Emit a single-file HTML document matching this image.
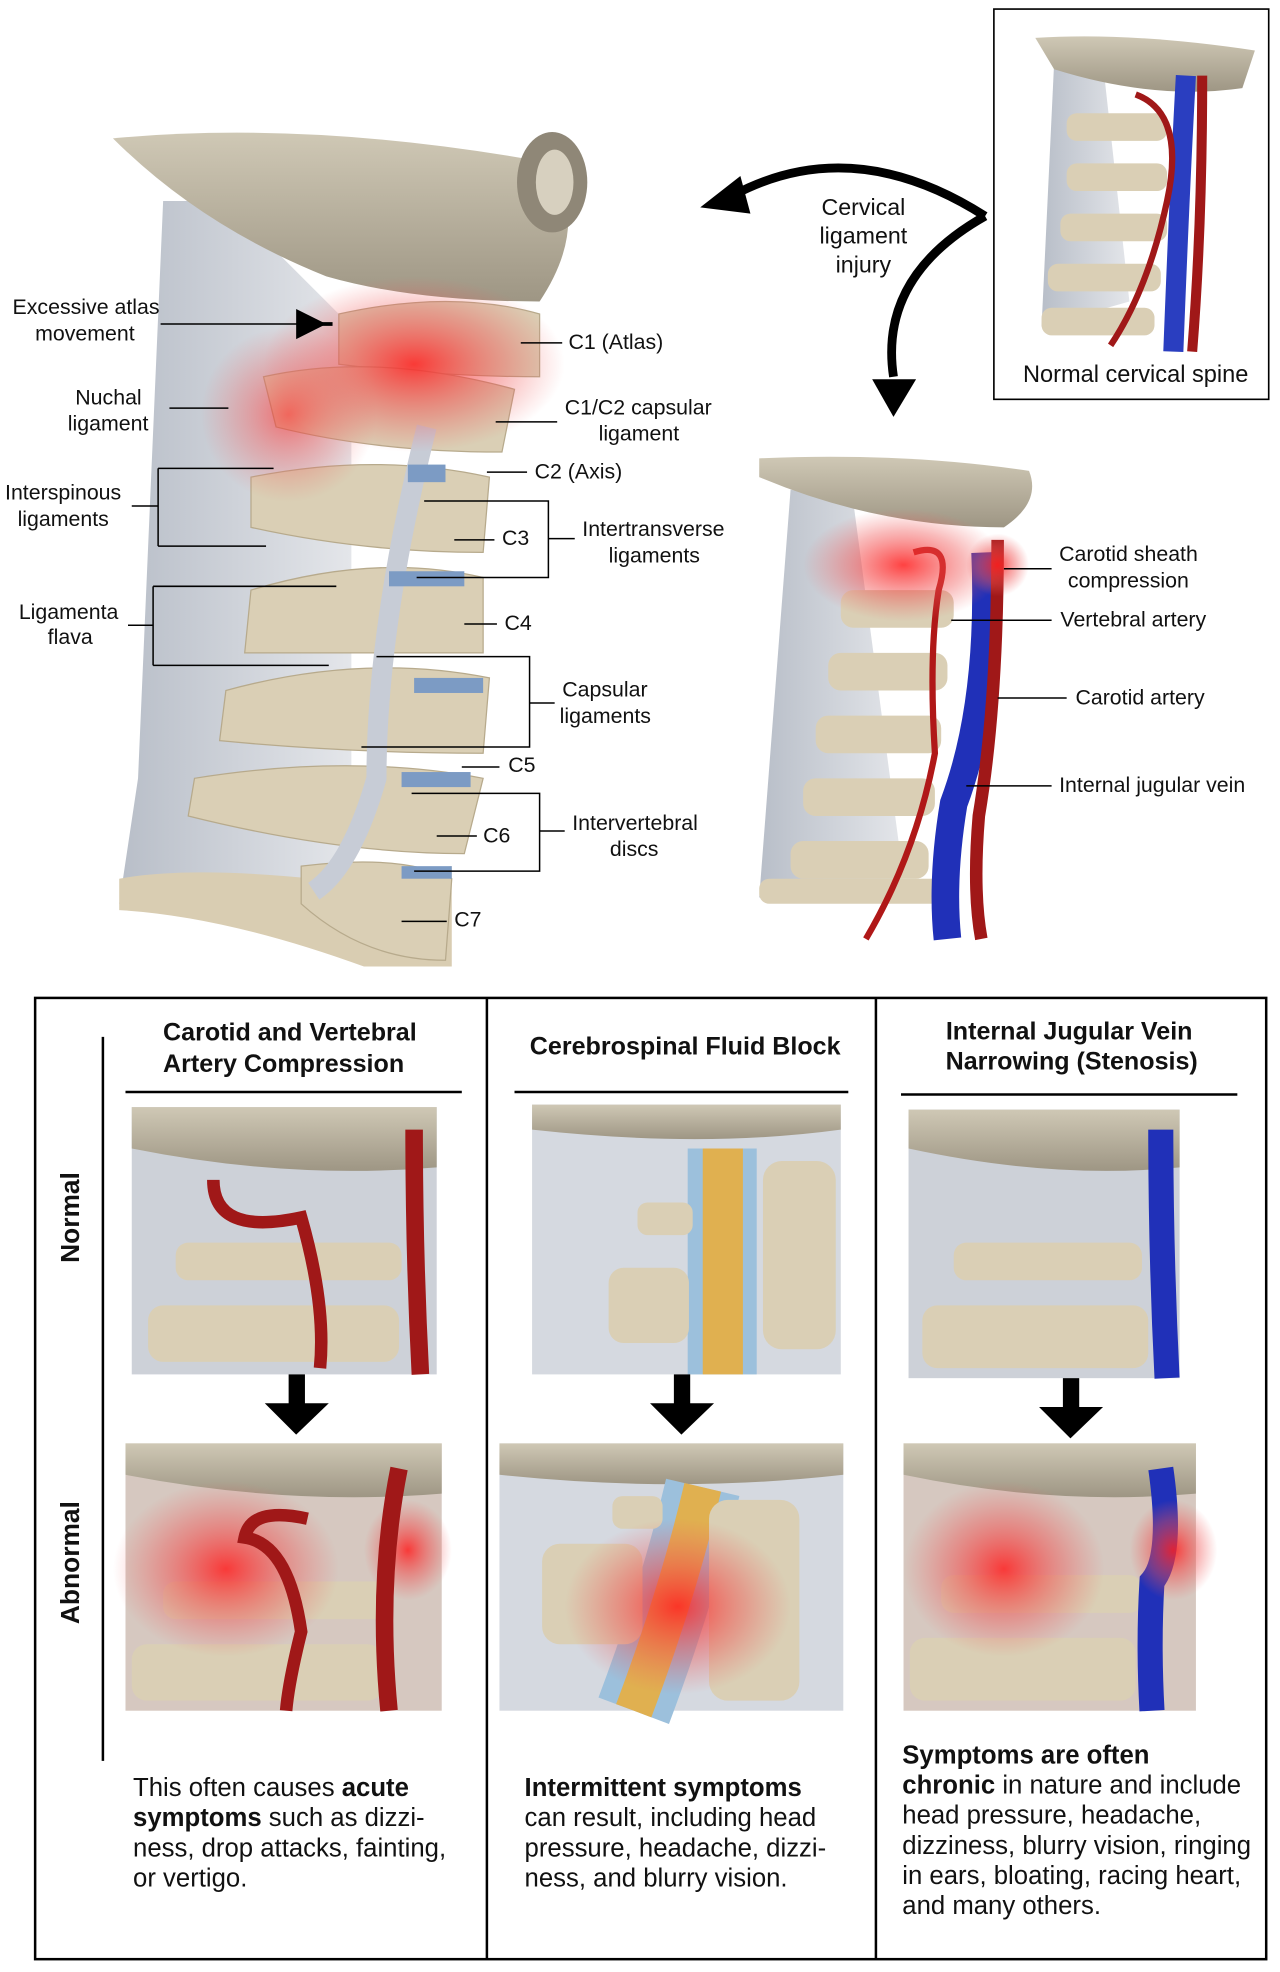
<!DOCTYPE html>
<html><head><meta charset="utf-8"><style>
html,body{margin:0;padding:0;background:#fff;}
svg{display:block;}
text{font-family:"Liberation Sans",Arial,sans-serif;fill:#111;}
</style></head><body>
<svg width="1280" height="1972" viewBox="0 0 1020 1571" xmlns="http://www.w3.org/2000/svg">
<defs>
<radialGradient id="red" cx="50%" cy="50%" r="50%"><stop offset="0" stop-color="#ff2020" stop-opacity="0.85"/><stop offset="0.6" stop-color="#f05050" stop-opacity="0.4"/><stop offset="1" stop-color="#f06060" stop-opacity="0"/></radialGradient>
<linearGradient id="lig" x1="0" x2="1"><stop offset="0" stop-color="#b8bec8"/><stop offset="1" stop-color="#e4e6ea"/></linearGradient>
<linearGradient id="skull" x1="0" y1="0" x2="0" y2="1"><stop offset="0" stop-color="#cfc8b5"/><stop offset="1" stop-color="#9e9684"/></linearGradient>
</defs>

<path d="M130,160 L180,160 L280,260 L280,720 L95,720 L110,620 Z" fill="url(#lig)"/>
<path d="M95,700 Q150,690 250,700 L360,690 L360,770 L290,770 Q180,730 95,725Z" fill="#d9cdb2"/>
<path d="M90,110 Q250,95 440,130 Q470,180 430,240 Q330,240 260,220 Q160,180 90,110Z" fill="url(#skull)"/>
<ellipse cx="440" cy="145" rx="28" ry="40" fill="#8f8777"/>
<ellipse cx="442" cy="145" rx="15" ry="26" fill="#d7d0bf"/>
<g fill="#dacfb5" stroke="#b7aa8c" stroke-width="1">
<path d="M270,250 Q360,230 430,250 L430,300 Q350,300 270,290Z"/>
<path d="M210,300 Q300,280 410,310 L400,360 Q300,360 220,340Z"/>
<path d="M200,380 Q300,360 390,380 L385,440 Q290,440 200,420Z"/>
<path d="M200,470 Q300,440 385,460 L385,520 Q290,520 195,520Z"/>
<path d="M180,550 Q290,520 390,540 L385,600 Q280,600 175,590Z"/>
<path d="M155,620 Q280,600 385,620 L370,680 Q270,680 150,650Z"/>
<path d="M240,690 Q320,680 360,700 L355,765 Q290,765 240,720Z"/>
</g>
<path d="M340,340 Q300,500 300,620 Q280,690 250,710" stroke="#c7ccd6" stroke-width="16" fill="none"/>
<g fill="#7c9bc4"><rect x="325" y="370" width="30" height="14"/><rect x="310" y="455" width="60" height="12"/><rect x="330" y="540" width="55" height="12"/><rect x="320" y="615" width="55" height="12"/><rect x="320" y="690" width="40" height="10"/></g>
<ellipse cx="330" cy="290" rx="120" ry="70" fill="url(#red)"/>
<ellipse cx="230" cy="330" rx="70" ry="70" fill="url(#red)" opacity="0.7"/>

<g font-size="17">
<text x="10" y="250">Excessive atlas</text><text x="28" y="271">movement</text>
<text x="60" y="322">Nuchal</text><text x="54" y="343">ligament</text>
<text x="4" y="398">Interspinous</text><text x="14" y="419">ligaments</text>
<text x="15" y="493">Ligamenta</text><text x="38" y="513">flava</text>
<text x="453" y="278">C1 (Atlas)</text>
<text x="450" y="330">C1/C2 capsular</text><text x="477" y="351">ligament</text>
<text x="426" y="381">C2 (Axis)</text>
<text x="400" y="434">C3</text>
<text x="464" y="427">Intertransverse</text><text x="485" y="448">ligaments</text>
<text x="402" y="502">C4</text>
<text x="448" y="555">Capsular</text><text x="446" y="576">ligaments</text>
<text x="405" y="615">C5</text>
<text x="385" y="671">C6</text>
<text x="456" y="661">Intervertebral</text><text x="486" y="682">discs</text>
<text x="362" y="738">C7</text>
</g>
<g stroke="#000" stroke-width="1.2" fill="none">
<line x1="128" y1="258" x2="240" y2="258"/>
<line x1="135" y1="325" x2="182" y2="325"/>
<path d="M105,403 H126 M126,373 V435 M126,373 H218 M126,435 H212"/>
<path d="M102,498 H122 M122,467 V530 M122,467 H268 M122,530 H262"/>
<line x1="415" y1="273" x2="448" y2="273"/>
<line x1="395" y1="336" x2="444" y2="336"/>
<line x1="388" y1="376" x2="420" y2="376"/>
<line x1="362" y1="430" x2="394" y2="430"/>
<path d="M338,399 H437 V460 H332 M437,429 H458"/>
<line x1="370" y1="497" x2="396" y2="497"/>
<path d="M300,523 H422 V595 H288 M422,560 H442"/>
<line x1="368" y1="611" x2="398" y2="611"/>
<line x1="348" y1="666" x2="380" y2="666"/>
<path d="M328,632 H430 V694 H330 M430,662 H450"/>
<line x1="320" y1="734" x2="356" y2="734"/>
</g>
<path d="M240,258 L265,258" stroke="#000" stroke-width="3"/>
<path d="M236,246 L260,258 L236,270Z" fill="#000"/>

<path d="M785,172 Q680,105 585,155" stroke="#000" stroke-width="7" fill="none"/>
<path d="M558,165 L590,140 L598,170Z" fill="#000"/>
<path d="M785,172 Q700,220 712,300" stroke="#000" stroke-width="7" fill="none"/>
<path d="M695,302 L730,302 L712,332Z" fill="#000"/>
<g font-size="18.5" text-anchor="middle"><text x="688" y="171">Cervical</text><text x="688" y="194">ligament</text><text x="688" y="217">injury</text></g>

<rect x="792" y="7" width="219" height="311" fill="#fff" stroke="#000" stroke-width="1.3"/>
<path d="M840,50 L880,60 L900,240 L830,260Z" fill="url(#lig)"/>
<path d="M825,30 Q900,25 1000,40 L990,70 Q920,80 840,55Z" fill="url(#skull)"/>
<g fill="#dacfb5"><rect x="850" y="90" width="80" height="22" rx="8"/><rect x="850" y="130" width="80" height="22" rx="8"/><rect x="845" y="170" width="85" height="22" rx="8"/><rect x="835" y="210" width="90" height="22" rx="8"/><rect x="830" y="245" width="90" height="22" rx="8"/></g>
<path d="M945,60 Q940,150 935,280" stroke="#2a3ec0" stroke-width="16" fill="none"/>
<path d="M958,60 Q958,180 950,280" stroke="#a01818" stroke-width="8" fill="none"/>
<path d="M905,75 Q945,90 930,160 Q915,230 885,275" stroke="#a01818" stroke-width="5" fill="none"/>
<text x="905" y="304" font-size="18.8" text-anchor="middle">Normal cervical spine</text>

<path d="M630,390 L680,400 L720,700 L605,715Z" fill="url(#lig)"/>
<path d="M605,365 Q720,360 820,375 Q830,400 800,420 Q700,420 605,380Z" fill="url(#skull)"/>
<g fill="#dacfb5"><rect x="670" y="470" width="90" height="30" rx="10"/><rect x="660" y="520" width="95" height="30" rx="10"/><rect x="650" y="570" width="100" height="30" rx="10"/><rect x="640" y="620" width="105" height="30" rx="10"/><rect x="630" y="670" width="110" height="30" rx="10"/><rect x="605" y="700" width="150" height="20" rx="8"/></g>
<path d="M785,440 Q790,560 760,640 Q750,700 755,748" stroke="#2030b8" stroke-width="22" fill="none"/>
<path d="M795,430 Q795,560 780,650 Q775,710 782,748" stroke="#a01818" stroke-width="10" fill="none"/>
<path d="M728,440 Q760,430 748,470 Q740,520 745,600 Q730,680 690,748" stroke="#b01818" stroke-width="5" fill="none"/>
<ellipse cx="720" cy="450" rx="80" ry="45" fill="url(#red)"/>
<ellipse cx="795" cy="450" rx="25" ry="25" fill="url(#red)"/>
<g font-size="17"><text x="844" y="447">Carotid sheath</text><text x="851" y="468">compression</text><text x="845" y="499">Vertebral artery</text><text x="857" y="561">Carotid artery</text><text x="844" y="631">Internal jugular vein</text></g>
<g stroke="#000" stroke-width="1.2"><line x1="800" y1="453" x2="838" y2="453"/><line x1="758" y1="494" x2="838" y2="494"/><line x1="795" y1="556" x2="850" y2="556"/><line x1="770" y1="626" x2="838" y2="626"/></g>

<rect x="28" y="795" width="981" height="766" fill="none" stroke="#000" stroke-width="2"/>
<line x1="388" y1="795" x2="388" y2="1561" stroke="#000" stroke-width="2"/>
<line x1="698" y1="795" x2="698" y2="1561" stroke="#000" stroke-width="2"/>
<line x1="82" y1="826" x2="82" y2="1403" stroke="#000" stroke-width="2"/>
<g stroke="#000" stroke-width="2"><line x1="100" y1="870" x2="368" y2="870"/><line x1="410" y1="870" x2="676" y2="870"/><line x1="718" y1="872" x2="986" y2="872"/></g>
<g font-size="20" font-weight="bold" text-anchor="middle">
<text x="231" y="829">Carotid and Vertebral</text><text x="226" y="854">Artery Compression</text>
<text x="546" y="840">Cerebrospinal Fluid Block</text>
<text x="852" y="828">Internal Jugular Vein</text><text x="854" y="852">Narrowing (Stenosis)</text>
</g>
<text transform="translate(63,970) rotate(-90)" font-size="21" font-weight="bold" text-anchor="middle">Normal</text>
<text transform="translate(63,1245) rotate(-90)" font-size="21" font-weight="bold" text-anchor="middle">Abnormal</text>

<g>
<rect x="105" y="882" width="243" height="213" fill="#cdd1d8"/>
<path d="M105,882 H348 V930 Q230,940 105,915Z" fill="url(#skull)"/>
<rect x="140" y="990" width="180" height="30" rx="10" fill="#dacfb5"/><rect x="118" y="1040" width="200" height="45" rx="12" fill="#dacfb5"/>
<path d="M330,900 Q330,1000 335,1095" stroke="#a01818" stroke-width="14" fill="none"/>
<path d="M170,940 Q170,985 240,970 Q260,1040 255,1090" stroke="#a01818" stroke-width="10" fill="none"/>

<rect x="100" y="1150" width="252" height="213" fill="#d6c8c0"/>
<path d="M100,1150 H352 V1190 Q230,1200 100,1175Z" fill="url(#skull)"/>
<rect x="130" y="1260" width="180" height="30" rx="10" fill="#dacfb5"/><rect x="105" y="1310" width="200" height="45" rx="12" fill="#dacfb5"/>
<ellipse cx="180" cy="1250" rx="90" ry="70" fill="url(#red)"/>
<ellipse cx="325" cy="1235" rx="35" ry="40" fill="url(#red)"/>
<path d="M318,1170 Q300,1260 310,1363" stroke="#a01818" stroke-width="14" fill="none"/>
<path d="M245,1210 Q200,1200 195,1225 Q230,1230 240,1300 Q230,1340 228,1363" stroke="#a01818" stroke-width="10" fill="none"/>

<rect x="424" y="880" width="246" height="215" fill="#d5d9e0"/>
<path d="M424,880 H670 V900 Q560,915 424,900Z" fill="url(#skull)"/>
<rect x="548" y="915" width="55" height="180" fill="#9cc0dc"/><rect x="560" y="915" width="32" height="180" fill="#e0b050"/>
<g fill="#dacfb5"><rect x="508" y="958" width="44" height="26" rx="8"/><rect x="485" y="1010" width="64" height="60" rx="12"/><rect x="608" y="925" width="58" height="150" rx="15"/></g>

<rect x="398" y="1150" width="274" height="213" fill="#d5d9e0"/>
<path d="M398,1150 H672 V1175 Q540,1190 398,1175Z" fill="url(#skull)"/>
<path d="M560,1185 Q540,1270 505,1363" stroke="#9cc0dc" stroke-width="60" fill="none"/>
<path d="M560,1185 Q540,1270 505,1363" stroke="#e0b050" stroke-width="30" fill="none"/>
<g fill="#dacfb5"><rect x="488" y="1192" width="40" height="26" rx="8"/><rect x="432" y="1230" width="80" height="80" rx="14"/><rect x="565" y="1195" width="72" height="160" rx="15"/></g>
<ellipse cx="540" cy="1280" rx="90" ry="70" fill="url(#red)"/>

<rect x="724" y="884" width="216" height="214" fill="#cdd1d8"/>
<path d="M724,884 H940 V930 Q840,940 724,915Z" fill="url(#skull)"/>
<rect x="760" y="990" width="150" height="30" rx="10" fill="#dacfb5"/><rect x="735" y="1040" width="180" height="50" rx="12" fill="#dacfb5"/>
<path d="M925,900 Q925,1000 930,1098" stroke="#2030b8" stroke-width="20" fill="none"/>

<rect x="720" y="1150" width="233" height="213" fill="#d6c8c0"/>
<path d="M720,1150 H953 V1190 Q840,1200 720,1175Z" fill="url(#skull)"/>
<rect x="750" y="1255" width="160" height="30" rx="10" fill="#dacfb5"/><rect x="725" y="1305" width="180" height="50" rx="12" fill="#dacfb5"/>
<ellipse cx="800" cy="1250" rx="80" ry="70" fill="url(#red)"/>
<path d="M925,1170 Q935,1240 918,1260 Q915,1310 918,1363" stroke="#2030b8" stroke-width="20" fill="none"/>
<ellipse cx="935" cy="1235" rx="35" ry="40" fill="url(#red)"/>
</g>

<g fill="#000">
<rect x="230" y="1095" width="13" height="24"/><path d="M211,1118 L262,1118 L236,1143Z"/>
<rect x="537" y="1095" width="13" height="24"/><path d="M518,1118 L569,1118 L543,1143Z"/>
<rect x="847" y="1098" width="13" height="24"/><path d="M828,1121 L879,1121 L853,1146Z"/>
</g>

<g font-size="20.5">
<text x="106" y="1431">This often causes <tspan font-weight="bold">acute</tspan></text>
<text x="106" y="1455"><tspan font-weight="bold">symptoms</tspan> such as dizzi-</text>
<text x="106" y="1479">ness, drop attacks, fainting,</text>
<text x="106" y="1503">or vertigo.</text>
<text x="418" y="1431" font-weight="bold">Intermittent symptoms</text>
<text x="418" y="1455">can result, including head</text>
<text x="418" y="1479">pressure, headache, dizzi-</text>
<text x="418" y="1503">ness, and blurry vision.</text>
<text x="719" y="1405" font-weight="bold">Symptoms are often</text>
<text x="719" y="1429"><tspan font-weight="bold">chronic</tspan> in nature and include</text>
<text x="719" y="1453">head pressure, headache,</text>
<text x="719" y="1477">dizziness, blurry vision, ringing</text>
<text x="719" y="1501">in ears, bloating, racing heart,</text>
<text x="719" y="1525">and many others.</text>
</g>
</svg>
</body></html>
